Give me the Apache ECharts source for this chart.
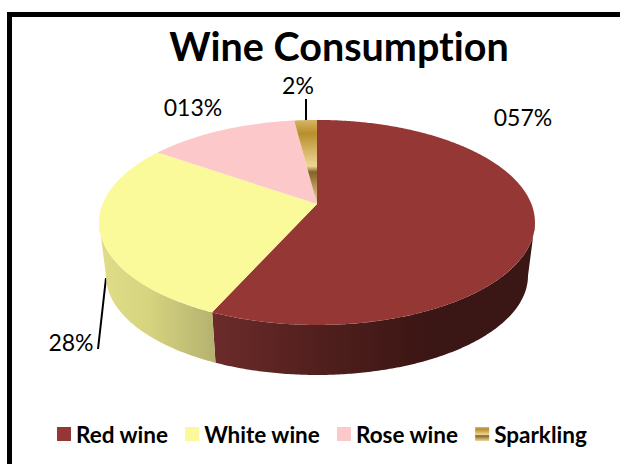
<!DOCTYPE html>
<html>
<head>
<meta charset="utf-8">
<title>Wine Consumption</title>
<style>
  html, body { margin: 0; padding: 0; background: #fff; }
  #main { width: 620px; height: 464px; }
  /* keep "ti" in Consumption as two letters */
  #main text { font-variant-ligatures: none; }
</style>
<script src="https://cdn.jsdelivr.net/npm/echarts@6/dist/echarts.min.js"></script>
</head>
<body>
<div id="main"></div>
<script>
// data
var categories = ['Red wine', 'White wine', 'Rose wine', 'Sparkling'];
var shares = [56.7, 28, 13.3, 2];
var shareLabels = ['057%', '28%', '013%', '2%'];

var myChart = echarts.init(document.getElementById('main'), null, { renderer: 'svg' });

var total = shares.reduce(function (a, b) { return a + b; }, 0);

// fake 3D: a tilted circle seen in perspective, same look as the office pie
var cx = 317, cy = 204;      // apex of the slices
var tilt = 0.18;             // perspective strength
var radX = 214.4, radY = 99.2;
var depth = 50;              // thickness of the side wall
var shrink = 0.968;          // lower rim is a bit narrower

function rim(angle, lower) {
    var u = Math.sin(angle), v = Math.cos(angle);
    var w = 1 + tilt * v;
    var k = lower ? shrink : 1;
    var y0 = lower ? cy + depth + 121 * (1 - shrink) : cy;
    return [cx + radX * k * u / w, y0 - radY * k * v / w];
}

function arcPoints(a0, a1, lower) {
    var pts = [];
    var steps = Math.max(2, Math.ceil((a1 - a0) / 0.01));
    for (var i = 0; i <= steps; i++) {
        pts.push(rim(a0 + (a1 - a0) * i / steps, lower));
    }
    return pts;
}

function hGrad(x0, x1, stops) {
    return { type: 'linear', x: x0, y: 0, x2: x1, y2: 0, global: true, colorStops: stops };
}

var sparkGrad = {
    type: 'linear', x: 0, y: 0, x2: 0, y2: 1,
    colorStops: [
        { offset: 0, color: '#d8b566' },
        { offset: 0.16, color: '#b98f2c' },
        { offset: 0.55, color: '#efd596' },
        { offset: 0.62, color: '#836326' },
        { offset: 0.85, color: '#c9a866' },
        { offset: 1, color: '#e8d6a8' }
    ]
};
var topColors = ['#953735', '#fbfa9b', '#fcc8c9', sparkGrad];
var wallColors = [
    hGrad(214, 430, [
        { offset: 0, color: '#6c2b2a' },
        { offset: 0.5, color: '#501f1d' },
        { offset: 1, color: '#3a1614' }
    ]),
    hGrad(105, 215, [
        { offset: 0, color: '#dfdc88' },
        { offset: 0.4, color: '#d6d47f' },
        { offset: 1, color: '#b4b26f' }
    ]),
    '#ccc', '#ccc'
];

// start angle of every slice, clockwise from 12 o'clock
var starts = [];
shares.reduce(function (sum, val, i) {
    starts[i] = sum / total * Math.PI * 2;
    return sum + val;
}, 0);

// the wall only shows between the two side extremes of the ellipse
var wallFrom = Math.acos(-tilt);
var wallTo = Math.PI * 2 - wallFrom;

function renderSlice(params, api) {
    var i = params.seriesIndex;
    var a0 = starts[i];
    var a1 = a0 + api.value(0) / total * Math.PI * 2;
    var children = [];

    var top = [[cx, cy]].concat(arcPoints(a0, a1, false));
    children.push({
        type: 'polygon',
        z2: 2,
        shape: { points: top },
        style: { fill: topColors[i], stroke: null }
    });

    var w0 = Math.max(a0, wallFrom), w1 = Math.min(a1, wallTo);
    if (w1 > w0) {
        var wall = arcPoints(w0, w1, false).concat(arcPoints(w0, w1, true).reverse());
        children.push({
            type: 'polygon',
            z2: 1,
            shape: { points: wall },
            style: { fill: wallColors[i], stroke: null }
        });
    }
    return { type: 'group', children: children };
}

var series = categories.map(function (name, i) {
    return {
        type: 'custom',
        name: name,
        coordinateSystem: 'none',
        silent: true,
        animation: false,
        itemStyle: { color: topColors[i] },
        renderItem: renderSlice,
        data: [[shares[i]]]
    };
});

var labelFont = { fontFamily: 'Lato', fontSize: 23, fill: '#000' };
function pctLabel(i, x, y) {
    return {
        type: 'text', x: x, y: y,
        style: {
            text: shareLabels[i], fontFamily: labelFont.fontFamily, fontSize: labelFont.fontSize,
            fill: labelFont.fill, textAlign: 'center', textVerticalAlign: 'middle'
        }
    };
}
function leader(x1, y1, x2, y2) {
    return {
        type: 'line',
        shape: { x1: x1, y1: y1, x2: x2, y2: y2 },
        style: { stroke: '#000', lineWidth: 2 }
    };
}
function frame() {
    return {
        type: 'polyline',
        shape: { points: [[9.5, 470], [9.5, 14.5], [626, 14.5]] },
        style: { stroke: '#000', lineWidth: 5, fill: null }
    };
}

var option = {
    backgroundColor: '#fff',
    animation: false,
    title: {
        text: 'Wine Consumption',
        left: 334,
        top: 20,
        textAlign: 'center',
        textStyle: { fontFamily: 'Lato', fontWeight: 'bold', fontSize: 39.5, color: '#000' }
    },
    legend: {
        left: 57,
        top: 422.5,
        padding: 0,
        itemWidth: 14,
        itemHeight: 14,
        itemGap: 16.7,
        icon: 'rect',
        selectedMode: false,
        data: categories,
        textStyle: { fontFamily: 'Lato', fontWeight: 'bold', fontSize: 22.5, color: '#000', padding: [0, 0, 4, 0] }
    },
    graphic: [
        // chart frame, only top and left are inside the crop
        frame(),
        pctLabel(0, 523, 116.5),
        pctLabel(1, 71, 341.5),
        pctLabel(2, 193, 106.5),
        pctLabel(3, 298, 84.5),
        leader(306, 99, 306, 120),
        leader(106, 278, 98, 349)
    ],
    series: series
};

myChart.setOption(option);
</script>
</body>
</html>
